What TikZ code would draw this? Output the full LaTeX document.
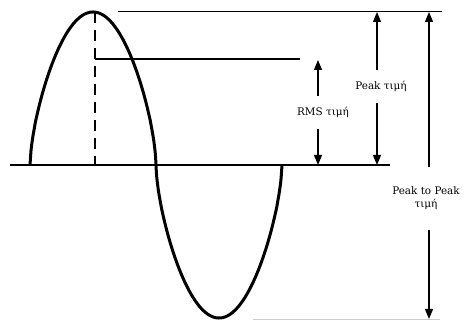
\documentclass[tikz,border=0pt]{standalone}
\usepackage{fontspec}
\setmainfont{DejaVu Serif}
\usetikzlibrary{arrows.meta}
\begin{document}
\begin{tikzpicture}[
  x=1pt, y=-1pt,
  level/.style={line width=1.3pt},
  wave/.style={line width=3pt},
  measure/.style={line width=1.2pt, -{Triangle[width=8pt,length=10pt]}},
  lbl/.style={font=\fontsize{10.4}{13}\selectfont, inner xsep=0pt, align=center}
]
  \useasboundingbox (0,0) rectangle (464,320);

  \coordinate (a0) at (10,165);
  \coordinate (a1) at (390,165);
  \coordinate (pk) at (95,12);
  \coordinate (pk0) at (95,165);
  \coordinate (t0) at (118,12);
  \coordinate (t1) at (442,12);
  \coordinate (r0) at (95,59);
  \coordinate (r1) at (300,59);
  \coordinate (b0) at (253,319);
  \coordinate (b1) at (440,319);

  \draw[level] (a0) -- (a1);
  \draw[line width=1pt] (t0) -- (t1);
  \draw[level] (r0) -- (r1);
  \draw[gray!40, line width=0.6pt] (b0) -- (b1);
  \draw[line width=1.5pt, dash pattern=on 11pt off 7pt] (pk) -- (pk0);

  \draw[wave] plot[domain=0:360, samples=240, smooth]
    ({30+\x*0.7},{165-153*sign(sin(\x))*pow(abs(sin(\x)),0.64)});

  \node[lbl, inner ysep=11pt] (rms) at (323,112.5) {RMS τιμή};
  \node[lbl, inner ysep=11.5pt] (peak) at (381,86.5) {Peak τιμή};
  \node[lbl, inner ysep=19.5pt] (p2p) at (426,198.5) {Peak to Peak\\τιμή};

  \coordinate (rmsup) at (318,60);
  \coordinate (rmsdn) at (318,165);
  \coordinate (pkup) at (377,12);
  \coordinate (pkdn) at (377,165);
  \coordinate (ppup) at (429,12);
  \coordinate (ppdn) at (429,319);

  \draw[measure] (rms.north -| rmsup) -- (rmsup);
  \draw[measure] (rms.south -| rmsdn) -- (rmsdn);
  \draw[measure] (peak.north -| pkup) -- (pkup);
  \draw[measure] (peak.south -| pkdn) -- (pkdn);
  \draw[measure] (p2p.north -| ppup) -- (ppup);
  \draw[measure] (p2p.south -| ppdn) -- (ppdn);
\end{tikzpicture}
\end{document}
